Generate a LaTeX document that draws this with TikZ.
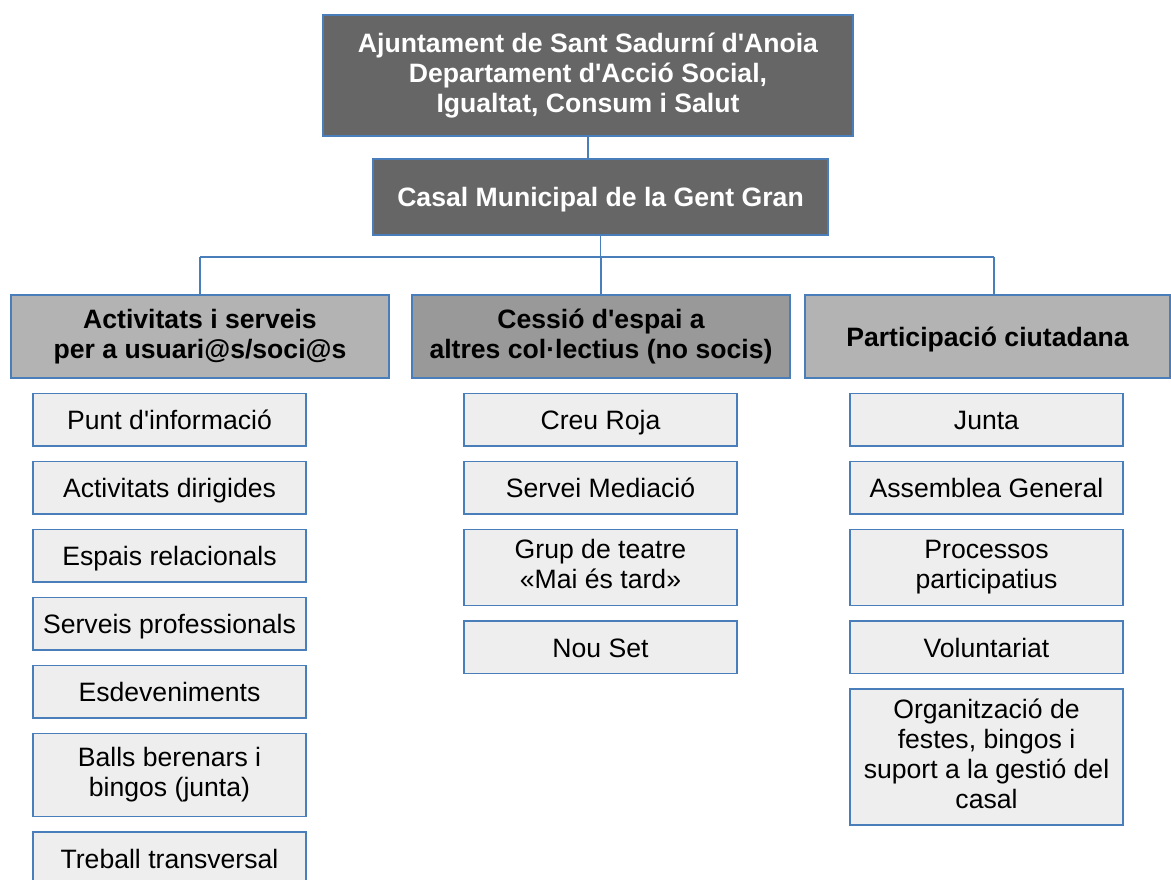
\documentclass[tikz,border=0pt]{standalone}
\usepackage{fontspec}
\setmainfont{Liberation Sans}[Ligatures=TeXOff]
\usetikzlibrary{positioning}
\definecolor{edgeblue}{HTML}{4A7EBB}
\definecolor{darkbox}{HTML}{666666}
\definecolor{midbox}{HTML}{999999}
\definecolor{lightbox}{HTML}{B3B3B3}
\definecolor{itembox}{HTML}{EEEEEE}
\newcommand{\orgfont}{\fontsize{26.6}{30}\selectfont}
\tikzset{
    box/.style={draw=edgeblue, line width=1.5pt, inner sep=0pt, outer sep=0pt, align=center,
        execute at begin node={\rule{0pt}{26pt}}, execute at end node={\rule[-6pt]{0pt}{6pt}}},
    topbox/.style={box, fill=darkbox, text=white, font=\orgfont\bfseries},
    areabox/.style={box, font=\orgfont\bfseries, minimum height=83pt},
    item/.style={box, fill=itembox, font=\orgfont, minimum width=273pt, minimum height=52.5pt},
    link/.style={draw=edgeblue, line width=1.3pt}
}
\begin{document}
\begin{tikzpicture}[x=1pt, y=-1pt, node distance=15.5pt]
                \useasboundingbox (0,0) rectangle (1171,880);

                \node[topbox, minimum width=530pt, minimum height=121pt] (top) at (588,75.5)
                    {Ajuntament de Sant Sadurní d'Anoia\\Departament d'Acció Social,\\Igualtat, Consum i Salut};
                \node[topbox, minimum width=455pt, minimum height=76pt] (casal) at (600.5,197)
                    {Casal Municipal de la Gent Gran};

                \node[areabox, fill=lightbox, minimum width=378pt] (act) at (200,336.5)
                    {Activitats i serveis\\per a usuari@s/soci@s};
                \node[areabox, fill=midbox, minimum width=378pt] (ces) at (601,336.5)
                    {Cessió d'espai a\\altres col·lectius (no socis)};
                \node[areabox, fill=lightbox, minimum width=365pt] (par) at (987.5,336.5)
                    {Participació ciutadana};

                \coordinate (busL) at (200,257);
                \coordinate (busR) at (994,257);
                \draw[link] (top.south) -- (top.south |- casal.north);
                \draw[link] (casal.south) -- (casal.south |- busL);
                \draw[link] (busL) -- (busR);
                \draw[link] (busL) -- (act.north);
                \draw[link] (ces.north |- busL) -- (ces.north);
                \draw[link] (busR) -- (busR |- par.north);

                % activitats i serveis
                \node[item] (a1) at (169.5,419.5) {Punt d'informació};
                \node[item, below=of a1] (a2) {Activitats dirigides};
                \node[item, below=of a2] (a3) {Espais relacionals};
                \node[item, below=of a3] (a4) {Serveis professionals};
                \node[item, below=of a4] (a5) {Esdeveniments};
                \node[item, below=of a5, minimum height=83pt] (a6) {Balls berenars i\\bingos (junta)};
                \node[item, below=of a6] (a7) {Treball transversal};

                % cessio d'espai
                \node[item] (c1) at (600.5,419.5) {Creu Roja};
                \node[item, below=of c1] (c2) {Servei Mediació};
                \node[item, below=of c2, minimum height=76pt] (c3) {Grup de teatre\\«Mai és tard»};
                \node[item, below=of c3] (c4) {Nou Set};

                % participacio
                \node[item] (p1) at (986.5,419.5) {Junta};
                \node[item, below=of p1] (p2) {Assemblea General};
                \node[item, below=of p2, minimum height=76pt] (p3) {Processos\\participatius};
                \node[item, below=of p3] (p4) {Voluntariat};
                \node[item, below=of p4, minimum height=136pt] (p5)
                    {Organització de\\festes, bingos i\\suport a la gestió del\\casal};
            \end{tikzpicture}
\end{document}
